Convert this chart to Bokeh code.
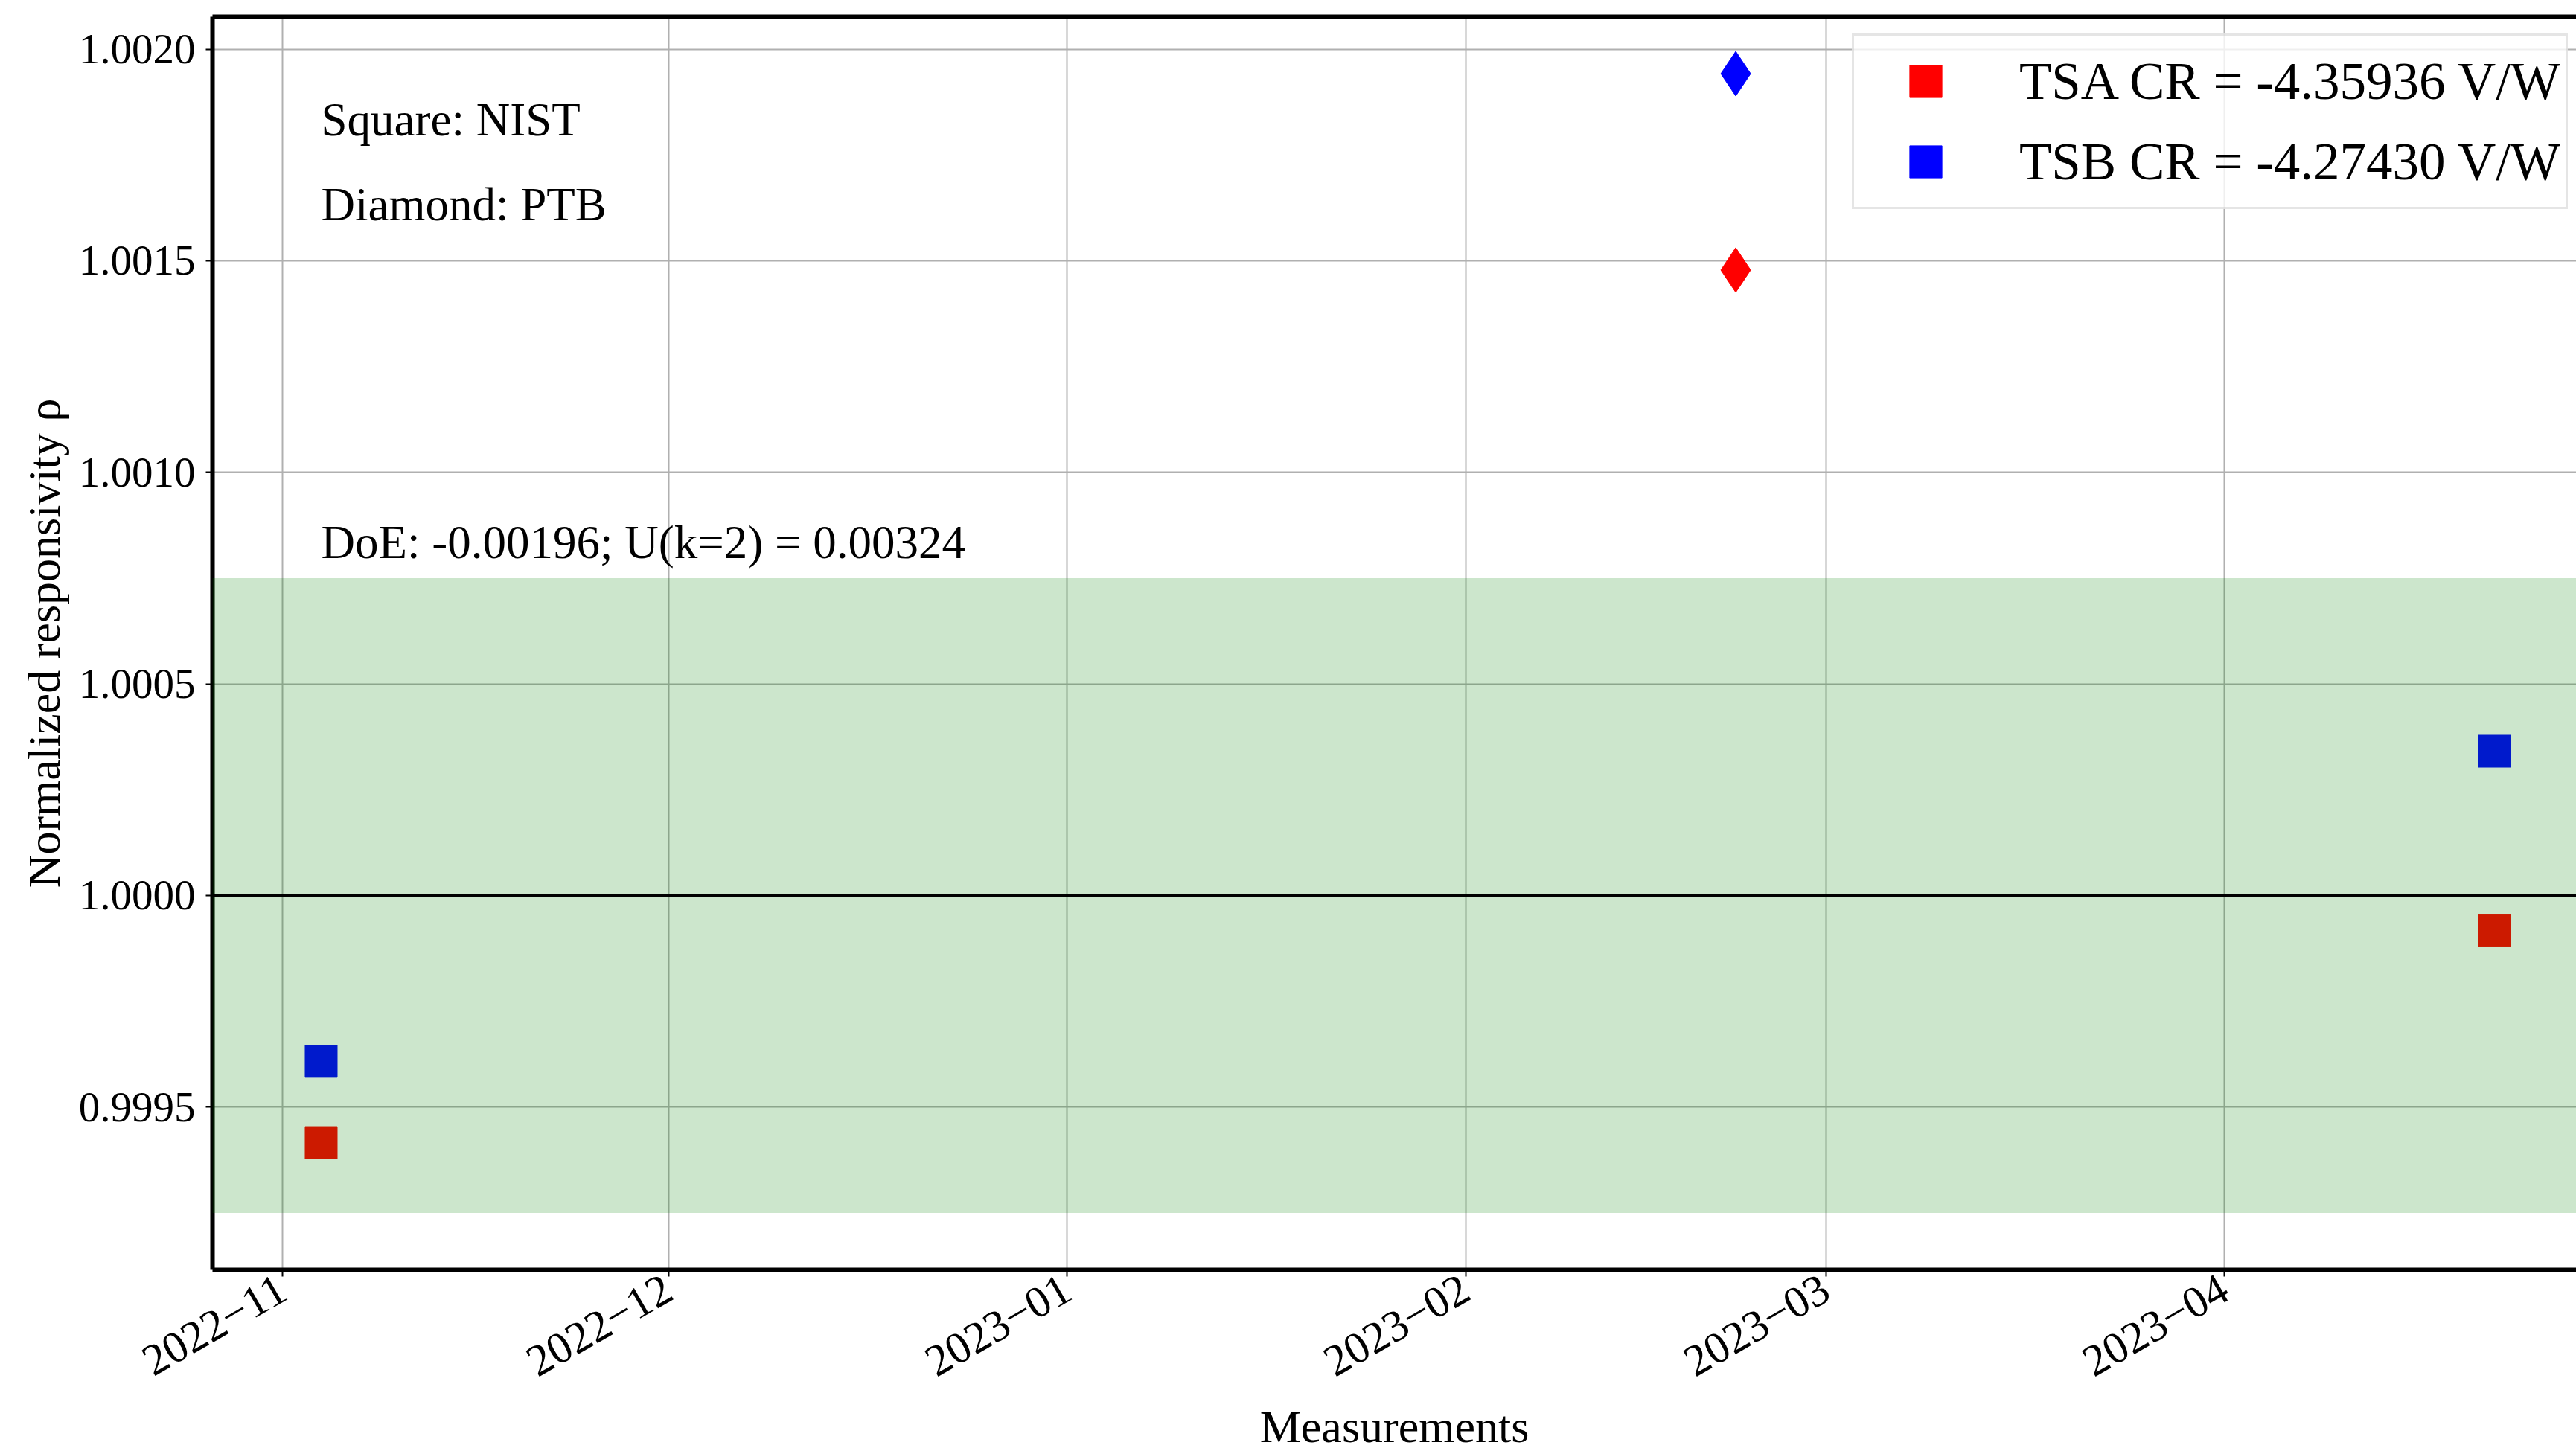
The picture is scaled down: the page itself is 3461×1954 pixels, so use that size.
import numpy as np
import pandas as pd
from bokeh.plotting import figure
from bokeh.models import (ColumnDataSource, FixedTicker, PrintfTickFormatter,
                          DatetimeTickFormatter, BoxAnnotation, Span, Legend,
                          LegendItem, LinearAxis, Range1d)
from bokeh.core.properties import value
from bokeh.embed import file_html
from bokeh.resources import INLINE

# ---------------- data ----------------
nist_dates = ["2022-11-04", "2023-04-22"]
nist_tsa = [0.999416, 0.999918]
nist_tsb = [0.999608, 1.000341]

ptb_dates = ["2023-02-22"]
ptb_tsa = [1.001478]
ptb_tsb = [1.001942]

legend_labels = ["TSA CR = -4.35936 V/W", "TSB CR = -4.27430 V/W"]
note_texts = ["Square: NIST", "Diamond: PTB", "DoE: -0.00196; U(k=2) = 0.00324"]
note_y = [1.0018, 1.0016, 1.0008]

reference_value = 1.0
band_half_width = 0.00075

x_tick_dates = ["2022-11-01", "2022-12-01", "2023-01-01", "2023-02-01",
                "2023-03-01", "2023-04-01"]
x_tick_labels = ["2022\u221211", "2022\u221212", "2023\u221201", "2023\u221202",
                 "2023\u221203", "2023\u221204"]
y_ticks = [0.9995, 1.0000, 1.0005, 1.0010, 1.0015, 1.0020]

FONT = "Liberation Serif"


def ms(d):
    return pd.Timestamp(d).value / 1e6


# ---------------- ranges ----------------
all_dates = [ms(d) for d in nist_dates + ptb_dates]
dmin, dmax = min(all_dates), max(all_dates)
xmargin = 0.05 * (dmax - dmin)
x_start = dmin - xmargin
x_full_end = dmax + xmargin
x_end = x_start + (x_full_end - x_start) * 0.9888  # figure cut at right edge

all_y = nist_tsa + nist_tsb + ptb_tsa + ptb_tsb + [reference_value - band_half_width,
                                                   reference_value + band_half_width]
ymin, ymax = min(all_y), max(all_y)
ymargin = 0.05 * (ymax - ymin)

p = figure(width=3461, height=1954, x_axis_type="datetime",
           output_backend="svg", toolbar_location=None,
           x_range=Range1d(x_start, x_end),
           y_range=Range1d(ymin - ymargin, ymax + ymargin),
           min_border_left=285, min_border_right=0,
           min_border_top=22, min_border_bottom=248)
p.outline_line_color = None
p.background_fill_color = "white"
p.border_fill_color = "white"

src_nist = ColumnDataSource(dict(x=pd.to_datetime(nist_dates), tsa=nist_tsa, tsb=nist_tsb))
src_ptb = ColumnDataSource(dict(x=pd.to_datetime(ptb_dates), tsa=ptb_tsa, tsb=ptb_tsb))

r_tsa = p.scatter("x", "tsa", source=src_nist, marker="square", size=43,
                  fill_color="red", line_color="red")
r_tsb = p.scatter("x", "tsb", source=src_nist, marker="square", size=43,
                  fill_color="blue", line_color="blue")
p.scatter("x", "tsa", source=src_ptb, marker="diamond", size=60,
          fill_color="red", line_color="red")
p.scatter("x", "tsb", source=src_ptb, marker="diamond", size=60,
          fill_color="blue", line_color="blue")

# annotation texts
note_src = ColumnDataSource(dict(x=pd.to_datetime([nist_dates[0]] * len(note_texts)),
                                 y=note_y, text=note_texts))
p.text("x", "y", text="text", source=note_src, text_font=value(FONT),
       text_font_size="63px", text_baseline="alphabetic", text_align="left",
       text_color="black", y_offset=-19)

# uncertainty band (drawn above the markers) and reference line
band = BoxAnnotation(bottom=reference_value - band_half_width,
                     top=reference_value + band_half_width,
                     fill_color="green", fill_alpha=0.2, line_color=None)
p.add_layout(band)
p.add_layout(Span(location=reference_value, dimension="width",
                  line_color="black", line_width=3.5))

# ---------------- axes ----------------
xt = [ms(d) for d in x_tick_dates]
p.xaxis.ticker = FixedTicker(ticks=xt)
p.xaxis.formatter = DatetimeTickFormatter(
    microseconds="%Y\u2212%m", milliseconds="%Y\u2212%m", seconds="%Y\u2212%m",
    minsec="%Y\u2212%m", minutes="%Y\u2212%m", hourmin="%Y\u2212%m",
    hours="%Y\u2212%m", days="%Y\u2212%m", months="%Y\u2212%m", years="%Y\u2212%m")
p.xaxis.major_label_overrides = {t: lab for t, lab in zip(xt, x_tick_labels)}
p.xaxis.major_label_orientation = np.pi / 6
p.xaxis.axis_label = "Measurements"

p.yaxis.ticker = FixedTicker(ticks=y_ticks)
p.yaxis.formatter = PrintfTickFormatter(format="%.4f")
p.yaxis.axis_label = "Normalized responsivity \u03c1"

for ax in (p.xaxis[0], p.yaxis[0]):
    ax.axis_line_width = 6
    ax.axis_line_color = "black"
    ax.major_tick_out = 9
    ax.major_tick_in = 0
    ax.major_tick_line_width = 2
    ax.major_tick_line_color = "black"
    ax.minor_tick_line_color = None
    ax.major_label_text_font = FONT
    ax.major_label_text_font_size = "57px"
    ax.major_label_text_color = "black"
    ax.axis_label_text_font = FONT
    ax.axis_label_text_font_size = "62px"
    ax.axis_label_text_font_style = "normal"
    ax.axis_label_text_color = "black"

p.xaxis.major_label_text_font_size = "60px"
p.xaxis.major_label_standoff = 12
p.xaxis.axis_label_standoff = 12
p.yaxis.major_label_standoff = 14
p.yaxis.axis_label_standoff = 10

top_axis = LinearAxis(ticker=FixedTicker(ticks=[]), axis_line_width=6,
                      axis_line_color="black", major_tick_line_color=None,
                      minor_tick_line_color=None, major_label_text_font_size="0px",
                      major_label_standoff=0)
p.add_layout(top_axis, "above")

p.grid.grid_line_color = "#b0b0b0"
p.grid.grid_line_width = 2

# ---------------- legend ----------------
legend = Legend(items=[LegendItem(label=legend_labels[0], renderers=[r_tsa]),
                       LegendItem(label=legend_labels[1], renderers=[r_tsb])],
                location=(2203, 1425),
                label_text_font=FONT, label_text_font_size="71px",
                label_text_color="black",
                glyph_width=178, glyph_height=108, label_standoff=37,
                padding=7, spacing=-4, margin=0,
                border_line_color="#cccccc", border_line_width=3,
                background_fill_color="white", background_fill_alpha=0.8)
p.add_layout(legend)

open("out.html", "w").write(file_html(p, INLINE))
